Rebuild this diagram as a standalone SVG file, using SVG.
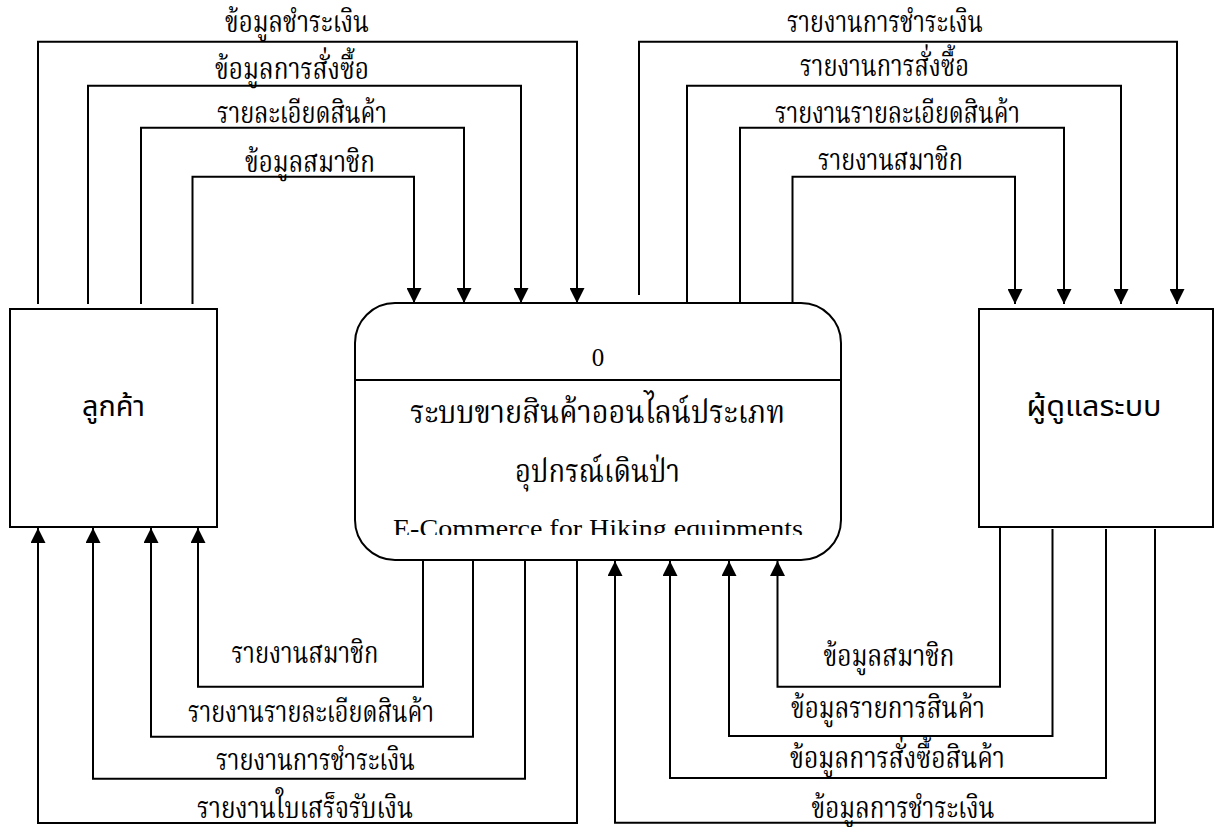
<svg xmlns="http://www.w3.org/2000/svg" width="1215" height="827" viewBox="0 0 1215 827">
<style>
.bg{fill:#ffffff}
.box{fill:#ffffff;stroke:#000;stroke-width:2}
.ln{fill:none;stroke:#000;stroke-width:2}
.flow{fill:none;stroke:#000;stroke-width:2;marker-end:url(#arr)}
.lbl{font-family:"Liberation Serif","Noto Serif Thai","Noto Sans Thai",serif;font-size:30px;fill:#000;text-anchor:middle}
.ent{font-family:"Noto Sans Thai","Liberation Sans",sans-serif;font-size:29px;fill:#000;text-anchor:middle}
.ttl{font-family:"Liberation Serif","Noto Serif Thai","Noto Sans Thai",serif;font-size:32px;fill:#000;text-anchor:middle}
.en{font-family:"Liberation Serif",serif;font-size:25px;fill:#000;text-anchor:middle}
</style>
<defs>
<marker id="arr" viewBox="0 0 15 15" refX="15" refY="7.5" markerWidth="15" markerHeight="15" orient="auto" markerUnits="userSpaceOnUse">
<path d="M0,0 L15,7.5 L0,15 z" fill="#000"/>
</marker>
<clipPath id="clipEn"><rect x="355" y="500" width="486" height="35"/></clipPath>
</defs>
<rect class="bg" x="0" y="0" width="1215" height="827"/>

<g id="connectors">
<path class="flow" d="M38,304 V41.7 H577 V303"/>
<path class="flow" d="M88,304 V85.7 H521 V303"/>
<path class="flow" d="M141,304 V127.7 H464 V303"/>
<path class="flow" d="M192.5,304 V176.7 H414 V303"/>

<path class="flow" d="M639,295 V41.7 H1177 V304"/>
<path class="flow" d="M687,303 V85.7 H1121 V304"/>
<path class="flow" d="M740,303 V127.7 H1064 V304"/>
<path class="flow" d="M792.5,303 V176.7 H1015 V304"/>

<path class="flow" d="M577,560 V823 H38 V528"/>
<path class="flow" d="M525,560 V778.7 H93 V528"/>
<path class="flow" d="M473,560 V736.7 H151 V528"/>
<path class="flow" d="M423,560 V686.7 H198 V528"/>

<path class="flow" d="M1155,529 V822.7 H615 V561"/>
<path class="flow" d="M1106,529 V778 H670 V561"/>
<path class="flow" d="M1052.5,529 V736 H729 V561"/>
<path class="flow" d="M1000,527 V686.7 H777.5 V561"/>

<text class="lbl" x="297" y="32" textLength="144" lengthAdjust="spacingAndGlyphs">ข้อมูลชำระเงิน</text>
<text class="lbl" x="292" y="79" textLength="154" lengthAdjust="spacingAndGlyphs">ข้อมูลการสั่งซื้อ</text>
<text class="lbl" x="302" y="123" textLength="170" lengthAdjust="spacingAndGlyphs">รายละเอียดสินค้า</text>
<text class="lbl" x="310" y="172" textLength="130" lengthAdjust="spacingAndGlyphs">ข้อมูลสมาชิก</text>

<text class="lbl" x="885" y="32" textLength="196" lengthAdjust="spacingAndGlyphs">รายงานการชำระเงิน</text>
<text class="lbl" x="884.5" y="76" textLength="169" lengthAdjust="spacingAndGlyphs">รายงานการสั่งซื้อ</text>
<text class="lbl" x="897.5" y="123" textLength="245" lengthAdjust="spacingAndGlyphs">รายงานรายละเอียดสินค้า</text>
<text class="lbl" x="890.5" y="170" textLength="145" lengthAdjust="spacingAndGlyphs">รายงานสมาชิก</text>

<text class="lbl" x="305" y="663" textLength="147" lengthAdjust="spacingAndGlyphs">รายงานสมาชิก</text>
<text class="lbl" x="311" y="722" textLength="246" lengthAdjust="spacingAndGlyphs">รายงานรายละเอียดสินค้า</text>
<text class="lbl" x="315.5" y="770" textLength="199" lengthAdjust="spacingAndGlyphs">รายงานการชำระเงิน</text>
<text class="lbl" x="305" y="818" textLength="216" lengthAdjust="spacingAndGlyphs">รายงานใบเสร็จรับเงิน</text>

<text class="lbl" x="889" y="666" textLength="131" lengthAdjust="spacingAndGlyphs">ข้อมูลสมาชิก</text>
<text class="lbl" x="888" y="718" textLength="194" lengthAdjust="spacingAndGlyphs">ข้อมูลรายการสินค้า</text>
<text class="lbl" x="897.5" y="768" textLength="215" lengthAdjust="spacingAndGlyphs">ข้อมูลการสั่งซื้อสินค้า</text>
<text class="lbl" x="903" y="818" textLength="183" lengthAdjust="spacingAndGlyphs">ข้อมูลการชำระเงิน</text>
</g>

<g id="customer">
<rect class="box" x="10" y="309" width="207" height="218"/>
<text class="ent" x="113.5" y="416" textLength="63" lengthAdjust="spacingAndGlyphs">ลูกค้า</text>
</g>

<g id="process0">
<rect class="box" x="355" y="303" width="486" height="257" rx="40" ry="40"/>
<line class="ln" x1="355" y1="380" x2="841" y2="380"/>
<text class="en" x="598" y="366" font-size="26">0</text>
<text class="ttl" x="597.5" y="423" textLength="375" lengthAdjust="spacingAndGlyphs">ระบบขายสินค้าออนไลน์ประเภท</text>
<text class="ttl" x="597.5" y="482" textLength="165" lengthAdjust="spacingAndGlyphs">อุปกรณ์เดินป่า</text>
<text class="en" x="598" y="537" clip-path="url(#clipEn)" textLength="410" lengthAdjust="spacingAndGlyphs">E-Commerce for Hiking equipments</text>
</g>

<g id="admin">
<rect class="box" x="979" y="309" width="234" height="218"/>
<text class="ent" x="1094" y="416" textLength="135" lengthAdjust="spacingAndGlyphs">ผู้ดูแลระบบ</text>
</g>
</svg>
